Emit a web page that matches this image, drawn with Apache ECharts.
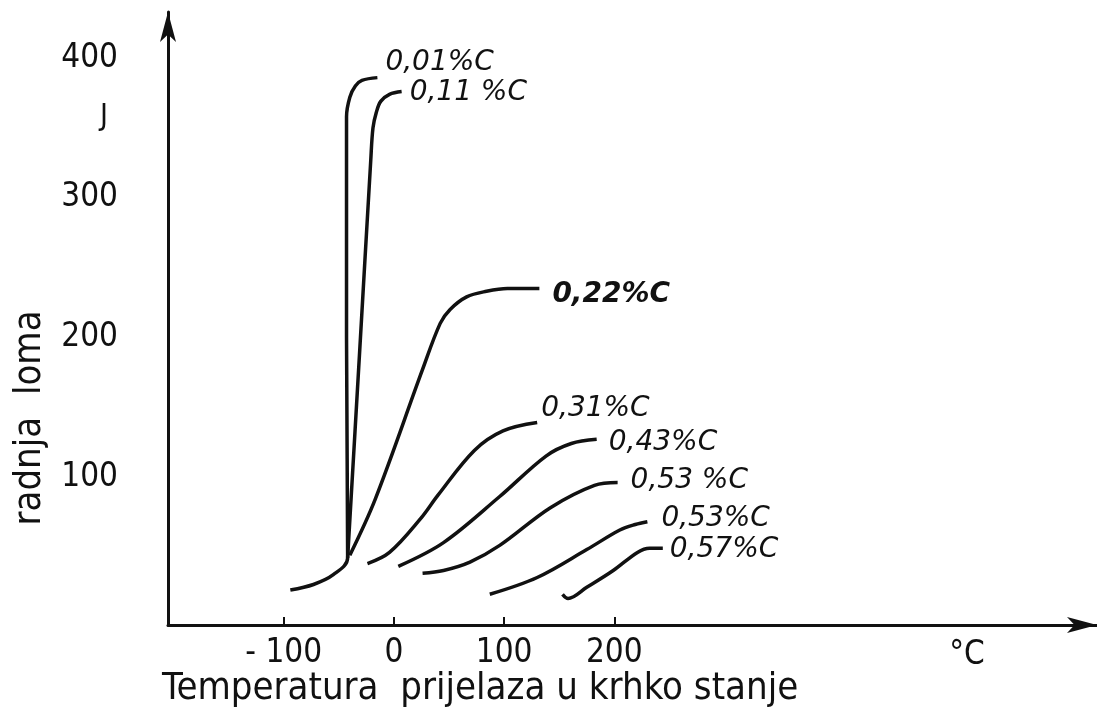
<!DOCTYPE html>
<html>
<head>
<meta charset="utf-8">
<script src="https://cdn.jsdelivr.net/npm/echarts@6/dist/echarts.min.js"></script>
<style>
  html, body { margin: 0; padding: 0; background: #fff; }
  #chart { width: 1097px; height: 719px; }
</style>
</head>
<body>
<div id="chart"></div>
<script>
// tick labels
const xTicks = [-100, 0, 100, 200];
const yTicks = [100, 200, 300, 400];

// curve names (carbon content)
const names = ['0,01%C', '0,11 %C', '0,22%C', '0,31%C', '0,43%C', '0,53 %C', '0,53%C', '0,57%C'];

// [temperature °C, energy J]
const c001 = [[-94, 19], [-73, 23], [-55, 30], [-42, 42], [-43, 200], [-43, 334], [-43, 358], [-40, 372], [-35, 380], [-29, 384], [-15, 386]];
const c011 = [[-42, 42], [-31, 191], [-21, 327], [-19, 350], [-16, 361], [-12, 369], [-4, 374], [7, 376]];
const c022 = [[-40, 44], [-17, 84], [26, 177], [42, 210], [51, 220], [66, 229], [84, 233], [103, 235], [132, 235]];
const c031 = [[-24, 38], [-4, 46], [24, 70], [40, 87], [73, 119], [99, 133], [130, 139]];
const c043 = [[4, 36], [45, 53], [96, 86], [138, 115], [161, 124], [184, 127]];
const c053a = [[26, 31], [45, 33], [69, 39], [96, 51], [142, 78], [182, 94], [203, 96]];
const c053b = [[87, 16], [130, 28], [175, 48], [205, 62], [219, 66], [230, 68]];
const c057 = [[153, 16], [158, 13], [175, 21], [199, 33], [221, 46], [232, 49], [244, 49]];

const curves = [c001, c011, c022, c031, c043, c053a, c053b, c057];
// where each label sits relative to the end of its curve
const labelOffsets = [[0, -15], [0, 1], [5, 6], [-4, -14], [4, 3], [5, -2], [6, -3], [-1, 2]];

const condensed = '"DejaVu Sans Condensed", "DejaVu Sans", sans-serif';

const chart = echarts.init(document.getElementById('chart'));

chart.setOption({
    backgroundColor: '#fff',
    animation: false,
    title: {
        text: 'Temperatura  prijelaza u krhko stanje',
        left: 162,
        top: 670,
        padding: 0,
        textStyle: {
            fontFamily: condensed,
            fontSize: 38,
            fontWeight: 'normal',
            color: '#111'
        }
    },
    graphic: [
        {
            type: 'text',
            x: 30,
            y: 418,
            rotation: Math.PI / 2,
            style: {
                text: 'radnja  loma',
                font: '38px ' + condensed,
                fill: '#111',
                align: 'center',
                verticalAlign: 'middle'
            }
        },
        {
            type: 'text',
            x: 104,
            y: 117,
            style: {
                text: 'J',
                font: '30px ' + condensed,
                fill: '#111',
                align: 'center',
                verticalAlign: 'middle'
            }
        },
        {
            type: 'text',
            x: 967,
            y: 655,
            style: {
                text: '°C',
                font: '33px ' + condensed,
                fill: '#111',
                align: 'center',
                verticalAlign: 'middle'
            }
        }
    ],
    grid: {
        left: 168,
        right: 0,
        top: 12,
        bottom: 94,
        containLabel: false
    },
    xAxis: {
        type: 'value',
        min: -205,
        max: 638,
        splitLine: { show: false },
        axisLine: {
            onZero: false,
            symbol: ['none', 'arrow'],
            symbolSize: [12, 30],
            lineStyle: { color: '#111', width: 3 }
        },
        axisTick: {
            show: true,
            inside: true,
            length: 8,
            customValues: xTicks,
            lineStyle: { color: '#111', width: 2 }
        },
        axisLabel: {
            customValues: xTicks,
            margin: 12,
            color: '#111',
            fontFamily: condensed,
            fontSize: 33,
            formatter: function (v) {
                return v < 0 ? '- ' + Math.abs(v) : String(v);
            }
        }
    },
    yAxis: {
        type: 'value',
        min: -6,
        max: 433,
        splitLine: { show: false },
        axisLine: {
            onZero: false,
            symbol: ['none', 'arrow'],
            symbolSize: [12, 30],
            lineStyle: { color: '#111', width: 3 }
        },
        axisTick: { show: false },
        axisLabel: {
            customValues: yTicks,
            margin: 50,
            color: '#111',
            fontFamily: condensed,
            fontSize: 33
        }
    },
    series: curves.map(function (data, i) {
        return {
            name: names[i],
            type: 'line',
            data: data,
            smooth: 0.35,
            symbol: 'none',
            lineStyle: { color: '#111', width: 3.5 },
            endLabel: {
                show: true,
                formatter: names[i],
                offset: labelOffsets[i],
                color: '#111',
                fontFamily: '"DejaVu Sans", sans-serif',
                fontStyle: 'italic',
                fontWeight: i === 2 ? 'bold' : 'normal',
                fontSize: 28
            }
        };
    })
});
</script>
</body>
</html>
